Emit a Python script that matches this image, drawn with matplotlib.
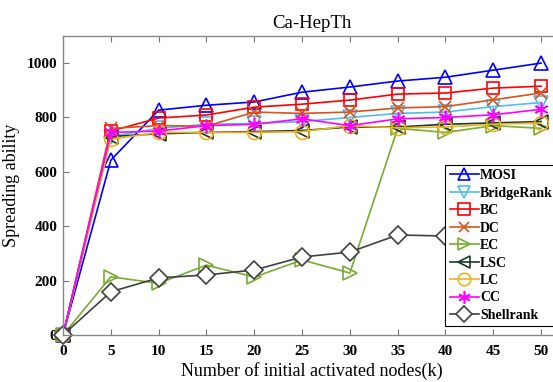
import matplotlib
matplotlib.use("Agg")
import matplotlib.pyplot as plt

plt.rcParams['font.family'] = ['Liberation Serif', 'DejaVu Serif']

k = [0, 5, 10, 15, 20, 25, 30, 35, 40, 45, 50]
mosi = [0, 643, 827, 845, 857, 893, 912, 934, 948, 974, 1000]
bridgerank = [0, 730, 760, 775, 778, 785, 800, 815, 820, 840, 855]
bc = [0, 750, 798, 809, 838, 849, 864, 886, 890, 908, 915]
dc = [0, 760, 770, 768, 820, 815, 820, 835, 840, 865, 890]
ec = [0, 214, 190, 257, 213, 276, 228, 760, 745, 770, 760]
lsc = [0, 730, 740, 745, 748, 752, 765, 765, 775, 780, 785]
lc = [0, 720, 745, 745, 745, 748, 770, 762, 765, 775, 780]
cc = [0, 745, 750, 770, 775, 795, 770, 795, 800, 810, 830]
shellrank = [0, 159, 210, 221, 239, 287, 305, 368, 364, 372, 378]

labels = ['MOSI', 'BridgeRank', 'BC', 'DC', 'EC', 'LSC', 'LC', 'CC', 'Shellrank']
series = [mosi, bridgerank, bc, dc, ec, lsc, lc, cc, shellrank]
colors = ['#0000FF', '#4DBEEE', '#FF0000', '#D95319', '#77AC30', '#1A3A28',
          '#EDB120', '#FF00FF', '#404040']
markers = ['^', 'v', 's', 'x', '>', '<', 'o', '*', 'D']
msizes = [10, 10, 9, 8, 10, 10, 10, 10, 9]

fig = plt.figure(figsize=(5.53, 3.82), dpi=100)
ax = fig.add_axes([0.114, 0.123, 0.899, 0.783])

for y, lab, c, m, ms in zip(series, labels, colors, markers, msizes):
    if m == '*':
        ax.plot(k, y, color=c, lw=1.2, marker=(6, 2, 0), ms=ms, mew=1.2,
                label=lab, clip_on=False)
    elif m == 'x':
        ax.plot(k, y, color=c, lw=1.2, marker=m, ms=ms, mew=1.2,
                label=lab, clip_on=False)
    else:
        ax.plot(k, y, color=c, lw=1.2, marker=m, ms=ms, mew=1.2,
                mfc='white' if m == 'D' else 'none', label=lab, clip_on=False)

ax.set_xlim(0, 52)
ax.set_ylim(0, 1100)
ax.set_xticks(range(0, 51, 5))
ax.set_yticks([0, 200, 400, 600, 800, 1000])
ax.tick_params(direction='in', top=True, right=False, length=4, color='#777777',
               labelsize=11)
ax.tick_params(axis='x', pad=7)
ax.tick_params(axis='y', pad=4)
for lbl in ax.get_xticklabels() + ax.get_yticklabels():
    lbl.set_fontweight('bold')
for s in ax.spines.values():
    s.set_color('#888888')
    s.set_linewidth(1.0)

ax.set_title('Ca-HepTh', fontsize=13.5, pad=6)
ax.set_xlabel('Number of initial activated nodes(k)', fontsize=13, labelpad=3)
ax.set_ylabel('Spreading ability', fontsize=13, labelpad=5)

leg = ax.legend(loc='lower left', bbox_to_anchor=(0.769, 0.03),
                prop={'weight': 'bold', 'size': 10}, frameon=True, fancybox=False,
                edgecolor='black', framealpha=1.0, markerscale=0.9,
                handlelength=2.1, handletextpad=0.1,
                labelspacing=0.32, borderpad=0.3, borderaxespad=0.0)
leg.get_frame().set_linewidth(0.8)

fig.savefig('out.png', dpi=100)
